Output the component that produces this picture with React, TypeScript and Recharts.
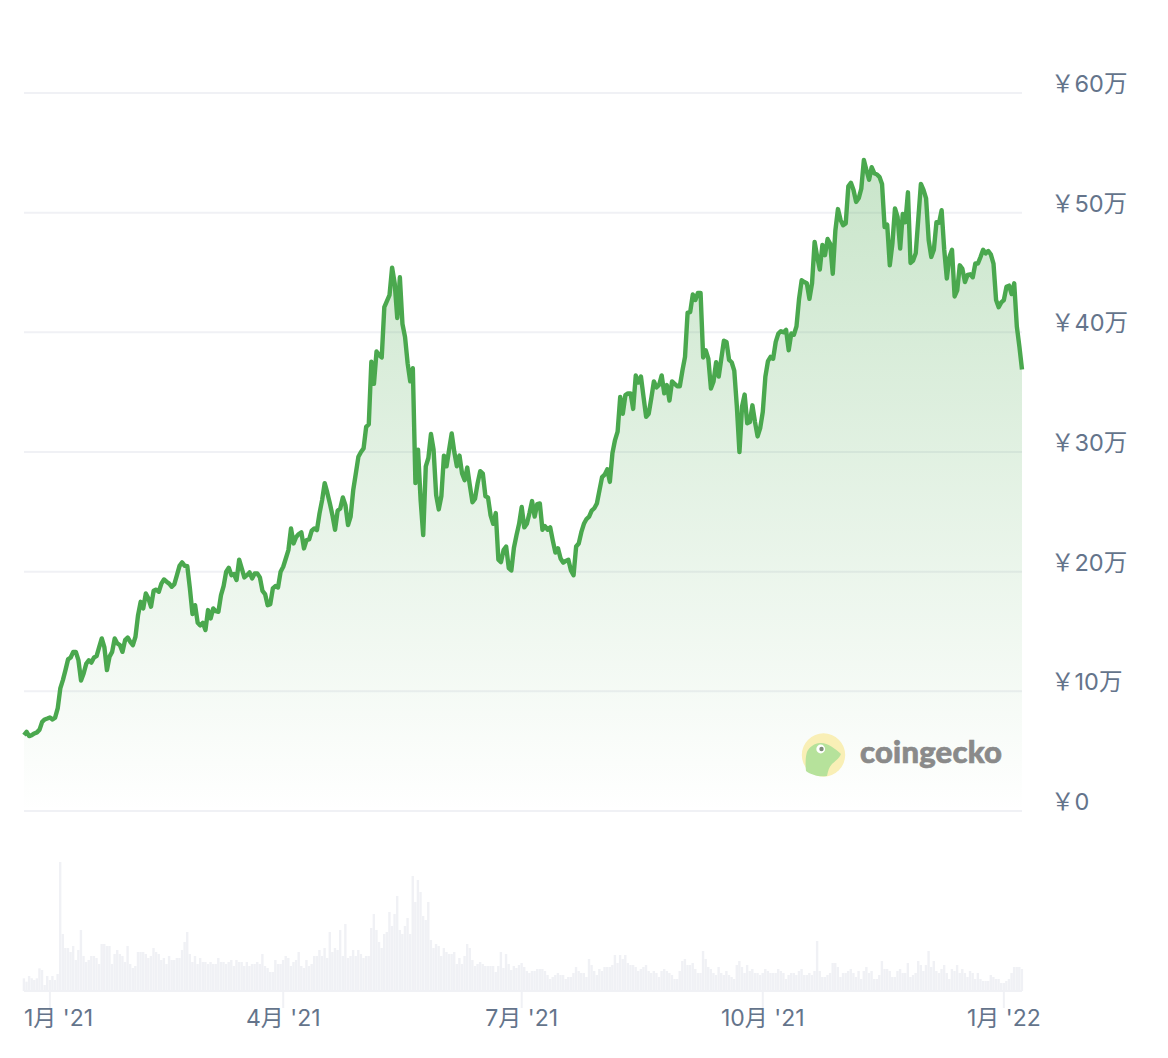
import { Area, Bar, BarChart, AreaChart, CartesianGrid, XAxis, YAxis } from "recharts"

// price per day, in units of 万 yen
const priceValues = [
  6.34, 6.62, 6.26, 6.34, 6.48, 6.57, 6.8, 7.45, 7.65, 7.73, 7.82, 7.65, 7.8, 8.57, 10.24, 10.94, 11.77, 12.67, 12.83, 13.3,
  13.3, 12.6, 10.9, 11.5, 12.3, 12.6, 12.4, 12.83, 12.94, 13.7, 14.42, 13.7, 11.77, 12.9, 13.3, 14.42, 14.0, 13.86, 13.3, 14.28,
  14.5, 14.14, 13.86, 14.56, 16.37, 17.48, 16.93, 18.18, 17.76, 17.07, 18.4, 18.5, 18.32, 19.0, 19.35, 19.16, 19.0, 18.74, 18.96, 19.71,
  20.49, 20.77, 20.49, 20.46, 18.6, 16.45, 17.2, 15.73, 15.5, 15.73, 15.12, 16.79, 16.09, 16.93, 16.7, 16.65, 18.04, 18.8, 20.0, 20.33,
  19.71, 19.8, 19.3, 21.0, 20.27, 19.52, 19.71, 19.94, 19.43, 19.85, 19.85, 19.52, 18.4, 18.13, 17.2, 17.29, 18.6, 18.8, 18.68, 20.0,
  20.41, 21.1, 21.8, 23.61, 22.36, 22.9, 23.14, 23.28, 21.94, 22.64, 22.69, 23.42, 23.61, 23.47, 24.87, 25.98, 27.4, 26.6, 25.7, 24.7,
  23.5, 25.1, 25.28, 26.2, 25.56, 23.9, 24.6, 26.81, 28.2, 29.6, 30.0, 30.3, 32.1, 32.3, 37.54, 35.7, 38.4, 38.1, 37.9, 42.1,
  42.6, 43.1, 45.4, 44.1, 41.2, 44.6, 40.7, 39.6, 37.4, 35.9, 37.0, 27.4, 30.2, 26.0, 23.05, 28.8, 29.5, 31.5, 30.2, 26.4,
  25.2, 26.3, 29.7, 28.8, 30.2, 31.55, 30.0, 28.8, 29.7, 28.2, 27.65, 28.7, 27.2, 25.8, 26.1, 27.4, 28.4, 28.2, 26.3, 26.2,
  24.7, 24.0, 24.9, 21.0, 20.8, 21.8, 22.1, 20.3, 20.1, 22.0, 23.05, 24.0, 25.4, 23.7, 24.0, 24.9, 25.9, 24.6, 25.65, 25.7,
  23.5, 23.8, 23.5, 23.7, 22.6, 21.6, 21.95, 21.1, 20.75, 20.9, 21.0, 20.1, 19.7, 22.1, 22.35, 23.3, 24.0, 24.4, 24.6, 25.1,
  25.3, 25.7, 26.8, 27.9, 28.1, 28.55, 27.5, 29.9, 31.0, 31.7, 34.6, 33.2, 34.75, 34.9, 34.9, 33.6, 36.4, 35.8, 36.3, 34.6,
  32.95, 33.2, 34.5, 35.9, 35.4, 35.6, 36.4, 34.9, 35.6, 34.3, 35.9, 35.7, 35.5, 35.5, 36.8, 37.95, 41.65, 41.7, 43.16, 42.7,
  43.3, 43.3, 37.9, 38.5, 37.8, 35.3, 35.9, 37.5, 36.3, 37.8, 39.3, 39.2, 37.7, 37.5, 36.8, 33.8, 30.0, 33.8, 34.8, 32.4,
  32.5, 33.9, 32.5, 31.3, 32.0, 33.35, 36.3, 37.6, 37.95, 37.8, 39.2, 39.9, 40.1, 40.0, 40.2, 38.5, 39.9, 39.8, 40.5, 42.8,
  44.35, 44.2, 44.1, 42.8, 44.1, 47.55, 46.3, 45.25, 47.3, 46.45, 47.8, 47.4, 44.9, 48.5, 50.3, 49.4, 48.95, 49.1, 52.2, 52.5,
  51.9, 50.9, 51.2, 52.0, 54.4, 53.55, 52.75, 53.8, 53.3, 53.2, 53.0, 52.4, 48.8, 49.0, 45.6, 47.4, 50.35, 49.65, 47.0, 49.9,
  49.2, 51.7, 45.8, 46.0, 46.6, 49.5, 52.4, 51.9, 51.2, 47.7, 46.3, 46.9, 49.2, 49.15, 50.2, 46.9, 44.5, 46.3, 46.9, 43.0,
  43.5, 45.6, 45.3, 44.2, 44.8, 44.85, 44.6, 45.75, 45.75, 46.3, 46.9, 46.6, 46.8, 46.5, 45.75, 42.7, 42.1, 42.5, 42.7, 43.8,
  43.9, 43.2, 44.1, 40.5, 38.8, 36.9,
]

// relative daily volume, no scale is printed in the picture
const volumeValues = [
  38, 28, 45, 38, 33, 38, 68, 63, 18, 45, 33, 45, 33, 51, 387, 171, 129, 129, 117, 135,
  93, 123, 183, 105, 87, 93, 105, 105, 99, 81, 141, 141, 135, 135, 81, 111, 123, 111, 105, 87,
  135, 81, 69, 75, 117, 117, 117, 111, 99, 105, 129, 117, 111, 93, 99, 81, 105, 93, 93, 99,
  99, 123, 147, 177, 111, 87, 105, 81, 99, 87, 87, 81, 87, 81, 81, 99, 87, 87, 81, 87,
  93, 75, 93, 87, 87, 75, 87, 75, 81, 81, 87, 81, 111, 75, 69, 57, 57, 93, 81, 81,
  93, 105, 99, 75, 87, 93, 117, 75, 69, 93, 75, 81, 105, 105, 123, 105, 129, 99, 177, 117,
  129, 123, 183, 105, 201, 99, 105, 123, 105, 123, 111, 99, 105, 105, 189, 231, 183, 147, 129, 171,
  177, 237, 195, 231, 285, 183, 171, 195, 219, 171, 345, 267, 333, 297, 225, 213, 267, 153, 129, 141,
  135, 105, 129, 117, 111, 111, 117, 81, 99, 81, 105, 141, 129, 93, 75, 81, 87, 81, 75, 75,
  75, 75, 57, 75, 117, 69, 111, 81, 63, 75, 69,
  78, 84, 72, 60, 54, 60, 60, 66, 66, 66, 60, 48, 36, 42, 48, 54, 48, 48, 36, 42, 42, 54,
  72, 60, 54, 54, 42, 96, 78, 60, 48, 66, 60, 72, 72, 72, 78, 108, 84, 108, 96, 108,
  84, 78, 78, 72, 60, 66, 72, 78, 60, 54, 60, 54, 42, 60, 66, 60, 54, 48, 36, 36, 60, 90, 96,
  78,
  78, 84, 66, 54, 54, 120, 96, 72, 66, 54, 48, 72, 54, 48, 60, 48, 42, 36, 78, 90,
  72, 54, 78, 60, 66, 54, 54, 48, 54, 66, 60, 54, 54, 54, 66, 60, 54, 36, 48, 54,
  54, 48, 60, 66, 48, 48, 54, 48, 60, 150, 60, 42, 42, 48, 54, 84, 84, 72, 42, 54,
  54, 60, 66, 54, 42,
  60,
  36, 60, 72, 54, 60, 36, 36, 48, 90, 66, 66, 60, 42, 42, 60, 66, 54, 54, 84, 42,
  48, 54, 90, 78, 60, 78, 120, 72, 90, 60, 54, 66, 78, 54, 36, 66, 60, 78, 54, 66,
  54, 42, 60, 54, 36, 54, 36, 30, 30, 30, 48, 42, 36, 36, 24, 24, 30, 36, 54, 72,
  72, 72, 66,
]

const priceTicks = [0, 10, 20, 30, 40, 50, 60]
const dayTicks = [10, 100, 192, 285, 378]
const dayLabels = ["1月 '21", "4月 '21", "7月 '21", "10月 '21", "1月 '22"]

const priceRows = priceValues.map((price, day) => ({ day, price }))
const volumeRows = volumeValues.map((volume, day) => ({ day, volume }))
const lastDay = priceValues.length - 1

const TEXT = "#64748b"
const GRID = "#f0f1f5"
const GREEN = "#4aa84e"
const FONT = "Inter, 'Noto Sans CJK JP', sans-serif"

function PriceTick({ x, y, payload }: any) {
  const label = payload.value === 0 ? "\uFFE50" : `\uFFE5${payload.value}万`
  return (
    <text x={x + 29} y={y - 1} fill={TEXT} fontSize={23.5} fontFamily={FONT}>
      {label}
    </text>
  )
}

function DayTick({ x, y, index }: any) {
  return (
    <g>
      <line x1={x} y1={y} x2={x} y2={y + 17} stroke={GRID} strokeWidth={2} />
      <text
        x={index === 0 ? 24 : x}
        y={y + 35}
        fill={TEXT}
        fontSize={23}
        fontFamily={FONT}
        textAnchor={index === 0 ? "start" : "middle"}
      >
        {dayLabels[index]}
      </text>
    </g>
  )
}

function Watermark() {
  return (
    <svg width={1168} height={1058} style={{ position: "absolute", left: 0, top: 0 }}>
      <circle cx={823.5} cy={755} r={21.7} fill="#f9efb6" />
      <path
        d="M806 771 C805 762 806 755 807 752 C809 747 815 743 820 743 C826 742 835 748 841 754 C839 759 835 761 832 764 C829 767 828 771 827 776 C819 777 811 775 806 771 Z"
        fill="#b6e29b"
      />
      <circle cx={820.7} cy={749} r={4.4} fill="#fff" />
      <circle cx={821.5} cy={749} r={2.2} fill="#7d8a78" />
      <text
        x={860}
        y={763}
        fill="#8a8a8a"
        stroke="#8a8a8a"
        strokeWidth={0.7}
        fontSize={31}
        fontWeight={900}
        fontFamily="Lato, sans-serif"
        textLength={142}
      >
        coingecko
      </text>
    </svg>
  )
}

export default function App() {
  return (
    <div style={{ position: "absolute", left: 0, top: 0, width: 1168, height: 1058, background: "#fff" }}>
      <div style={{ position: "absolute", left: 0, top: 0 }}>
        <AreaChart width={1168} height={840} data={priceRows} margin={{ top: 93, right: 0, bottom: 29, left: 24 }}>
          <defs>
            <linearGradient id="priceFill" x1="0" y1="0" x2="0" y2="1">
              <stop offset="0%" stopColor={GREEN} stopOpacity={0.3} />
              <stop offset="100%" stopColor={GREEN} stopOpacity={0} />
            </linearGradient>
          </defs>
          <CartesianGrid vertical={false} stroke={GRID} strokeWidth={2} />
          <XAxis dataKey="day" type="number" domain={[0, lastDay]} hide />
          <YAxis
            orientation="right"
            width={146}
            domain={[0, 60]}
            ticks={priceTicks}
            axisLine={false}
            tickLine={false}
            tickSize={0}
            tickMargin={0}
            tick={<PriceTick />}
          />
          <Area
            dataKey="price"
            type="linear"
            stroke={GREEN}
            strokeWidth={4.4}
            strokeLinejoin="round"
            fill="url(#priceFill)"
            fillOpacity={1}
            dot={false}
            isAnimationActive={false}
          />
        </AreaChart>
      </div>
      <div style={{ position: "absolute", left: 0, top: 862 }}>
        <BarChart width={1168} height={196} data={volumeRows} margin={{ top: 0, right: 146, bottom: 0, left: 24 }}>
          <XAxis
            dataKey="day"
            type="number"
            domain={[0, lastDay]}
            ticks={dayTicks}
            height={67}
            interval={0}
            axisLine={{ stroke: GRID, strokeWidth: 2 }}
            tickLine={false}
            tickSize={0}
            tickMargin={0}
            tick={<DayTick />}
          />
          <YAxis hide domain={[0, 387]} />
          <Bar dataKey="volume" fill={GRID} barSize={2.4} isAnimationActive={false} />
        </BarChart>
      </div>
      <Watermark />
    </div>
  )
}
